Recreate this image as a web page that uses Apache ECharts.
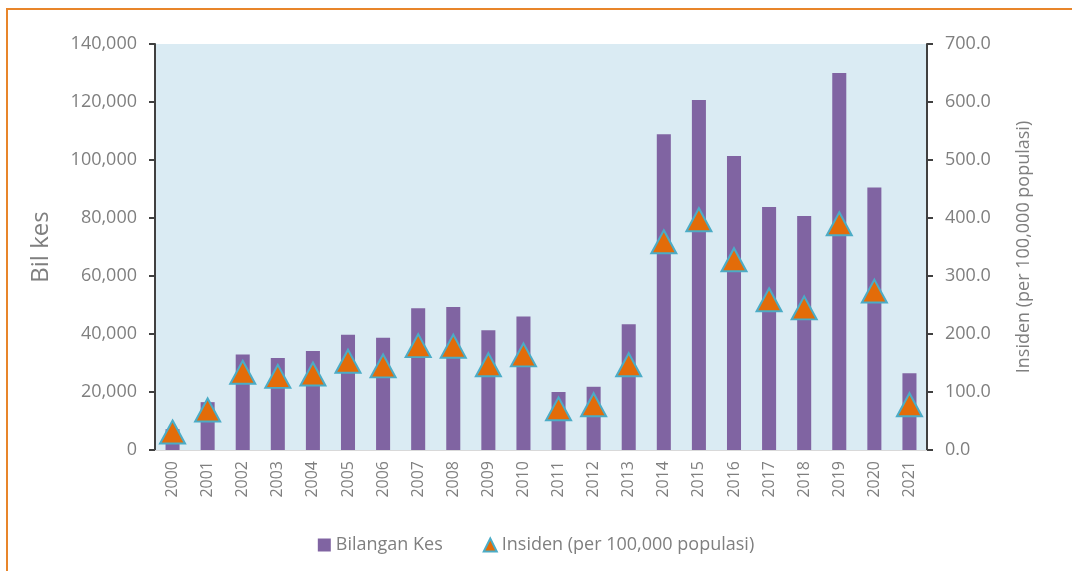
<!DOCTYPE html>
<html>
<head>
<meta charset="utf-8">
<script src="https://cdn.jsdelivr.net/npm/echarts@6/dist/echarts.min.js"></script>
<style>
    html, body { margin: 0; padding: 0; background: #fff; }
    #chart { width: 1072px; height: 571px; }
</style>
</head>
<body>
<div id="chart"></div>
<script>
var years = ['2000', '2001', '2002', '2003', '2004', '2005', '2006', '2007', '2008', '2009', '2010',
    '2011', '2012', '2013', '2014', '2015', '2016', '2017', '2018', '2019', '2020', '2021'];
var bilanganKes = [7200, 16500, 32900, 31700, 34100, 39700, 38700, 48900, 49300, 41300, 46000,
    20000, 21800, 43400, 108900, 120700, 101400, 83800, 80700, 130000, 90500, 26500];
var insiden = [31, 69, 134, 127, 131, 153, 145, 180, 179, 147, 164,
    71, 78, 147, 359, 397, 328, 259, 245, 390, 274, 78];

var grey = '#7f7f7f';
var font = 'Open Sans';

function createChart() {
    var myChart = echarts.init(document.getElementById('chart'));

    var option = {
        animation: false,
        textStyle: { fontFamily: font },
        graphic: [{
            type: 'rect',
            shape: { x: 7, y: 9, width: 1200, height: 700 },
            style: { fill: 'none', stroke: '#e8852a', lineWidth: 2 }
        }],
        grid: {
            left: 155,
            right: 145,
            top: 44,
            bottom: 121,
            show: true,
            backgroundColor: '#daebf3',
            borderWidth: 0
        },
        legend: {
            bottom: 12,
            left: 'center',
            itemGap: 40,
            itemWidth: 13,
            itemHeight: 13,
            textStyle: { color: grey, fontSize: 18, fontFamily: font },
            data: [
                { name: 'Bilangan Kes', icon: 'rect' },
                { name: 'Insiden (per 100,000 populasi)', icon: 'triangle' }
            ]
        },
        xAxis: {
            type: 'category',
            data: years,
            axisLine: { lineStyle: { color: '#d9d9d9' } },
            axisTick: { show: false },
            axisLabel: { rotate: 90, color: grey, fontSize: 16, margin: 11, interval: 0 }
        },
        yAxis: [{
            type: 'value',
            min: 0,
            max: 140000,
            interval: 20000,
            name: 'Bil kes',
            nameLocation: 'middle',
            nameRotate: 90,
            nameGap: 102,
            nameTextStyle: { color: grey, fontSize: 24 },
            axisLine: { show: true, lineStyle: { color: '#404040', width: 2 } },
            axisTick: { show: true, length: 6, lineStyle: { color: '#404040', width: 2 } },
            splitLine: { show: false },
            axisLabel: {
                color: grey,
                fontSize: 18,
                margin: 18,
                formatter: function (v) { return v.toLocaleString('en-US'); }
            }
        }, {
            type: 'value',
            min: 0,
            max: 700,
            interval: 100,
            position: 'right',
            name: 'Insiden (per 100,000 populasi)',
            nameLocation: 'middle',
            nameRotate: 90,
            nameGap: 88,
            nameTextStyle: { color: grey, fontSize: 18 },
            axisLine: { show: true, lineStyle: { color: '#404040', width: 2 } },
            axisTick: { show: true, length: 6, lineStyle: { color: '#404040', width: 2 } },
            splitLine: { show: false },
            axisLabel: {
                color: grey,
                fontSize: 18,
                margin: 18,
                formatter: function (v) { return v.toFixed(1); }
            }
        }],
        series: [{
            name: 'Bilangan Kes',
            type: 'bar',
            data: bilanganKes,
            barWidth: '40%',
            itemStyle: { color: '#8064a2' }
        }, {
            name: 'Insiden (per 100,000 populasi)',
            type: 'line',
            yAxisIndex: 1,
            data: insiden,
            symbol: 'triangle',
            symbolSize: [25, 23],
            lineStyle: { width: 0, opacity: 0 },
            itemStyle: { color: '#e36c09', borderColor: '#4bacc6', borderWidth: 2 },
            z: 5
        }]
    };

    myChart.setOption(option);
}

createChart();
</script>
</body>
</html>
